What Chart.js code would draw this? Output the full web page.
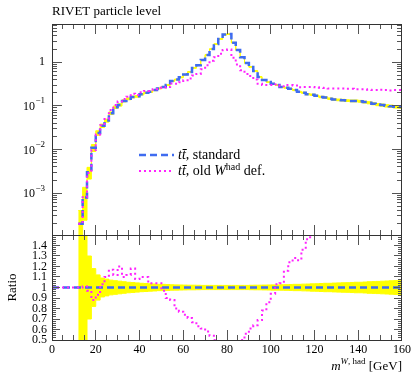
<!DOCTYPE html>
<html lang="en">
<head>
<meta charset="utf-8">
<title>RIVET particle level</title>
<script src="https://cdn.jsdelivr.net/npm/chart.js@4.4.1/dist/chart.umd.min.js"></script>
<style>
  html, body { margin: 0; padding: 0; background: #fff; }
  #wrap { position: relative; width: 415px; height: 375px; overflow: hidden; }
  #chartTop { position: absolute; left: 0; top: 0; }
  #chartRatio { position: absolute; left: 0; top: 230px; }
</style>
</head>
<body>
<div id="wrap">
  <canvas id="chartTop" width="415" height="240" style="width:415px;height:240px"></canvas>
  <canvas id="chartRatio" width="415" height="145" style="width:415px;height:145px"></canvas>
</div>
<script>
// --- dados (bins de 2 GeV, borda inferior) ---
const binLow = [0, 2, 4, 6, 8, 10, 12, 14, 16, 18, 20, 22, 24, 26, 28, 30, 32, 34, 36, 38,
  40, 42, 44, 46, 48, 50, 52, 54, 56, 58, 60, 62, 64, 66, 68, 70, 72, 74, 76, 78,
  80, 82, 84, 86, 88, 90, 92, 94, 96, 98, 100, 102, 104, 106, 108, 110, 112, 114, 116, 118,
  120, 122, 124, 126, 128, 130, 132, 134, 136, 138, 140, 142, 144, 146, 148, 150, 152, 154, 156, 158];
const binEnd = 160;

// tt̄, standard
const stdVals = [null, null, null, null, null, null,
  2.0e-4, 8.0e-4, 3.0e-3, 1.1e-2, 2.4e-2, 3.5e-2, 4.6e-2, 6.8e-2, 9.3e-2, 0.105,
  0.13, 0.145, 0.16, 0.165, 0.185, 0.2, 0.21, 0.23, 0.25, 0.27,
  0.3, 0.37, 0.4, 0.45, 0.52, 0.6, 0.74, 0.85, 1.13, 1.47,
  2.0, 2.6, 3.4, 4.3, 4.4, 2.8, 1.9, 1.3, 0.96, 0.78,
  0.63, 0.46, 0.39, 0.35, 0.32, 0.3, 0.27, 0.26, 0.245, 0.23,
  0.21, 0.2, 0.185, 0.18, 0.17, 0.16, 0.155, 0.146, 0.14, 0.137,
  0.135, 0.132, 0.13, 0.13, 0.127, 0.122, 0.118, 0.112, 0.107, 0.104,
  0.1, 0.098, 0.095, 0.094];

// tt̄, old W^had def.
const oldVals = [null, null, null, null, null, null,
  2.0e-4, 8.1e-4, 2.9e-3, 9.7e-3, 2.2e-2, 3.6e-2, 5.0e-2, 8.0e-2, 0.104, 0.126,
  0.143, 0.162, 0.189, 0.178, 0.204, 0.22, 0.218, 0.24, 0.26, 0.262,
  0.27, 0.326, 0.32, 0.347, 0.385, 0.426, 0.496, 0.536, 0.69, 0.85,
  1.08, 1.3, 1.56, 1.9, 1.95, 1.26, 0.89, 0.65, 0.54, 0.48,
  0.40, 0.32, 0.30, 0.30, 0.30, 0.31, 0.28, 0.30, 0.30, 0.294,
  0.265, 0.27, 0.27, 0.27, 0.265, 0.26, 0.255, 0.25, 0.25, 0.25,
  0.25, 0.245, 0.245, 0.24, 0.24, 0.24, 0.235, 0.23, 0.23, 0.235,
  0.23, 0.225, 0.23, 0.23];

// razão old / standard (painel de baixo)
const ratioOld = [1, 1, 1, 1, 1, 1,
  1.0, 1.01, 0.97, 0.88, 0.93, 1.03, 1.1, 1.17, 1.12, 1.2,
  1.1, 1.12, 1.18, 1.08, 1.1, 1.1, 1.04, 1.04, 1.04, 0.97,
  0.9, 0.88, 0.8, 0.77, 0.74, 0.71, 0.67, 0.63, 0.61, 0.58,
  0.54, 0.5, 0.46, 0.44, 0.44, 0.45, 0.47, 0.5, 0.56, 0.61,
  0.64, 0.69, 0.78, 0.86, 0.94, 1.03, 1.04, 1.16, 1.24, 1.28,
  1.26, 1.36, 1.46, 1.52, 1.56, 1.62, 1.65, 1.71, 1.79, 1.82,
  1.85, 1.86, 1.88, 1.85, 1.89, 1.97, 1.99, 2.05, 2.15, 2.26,
  2.3, 2.3, 2.42, 2.45];
const ratioStdEdges = [0, 160];
const ratioStd = [1, 1];

// incerteza relativa do standard (faixa amarela)
const relErr = [null, null, null, null, null, null,
  1.0, 0.7, 0.3, 0.18, 0.12, 0.09, 0.08, 0.07, 0.065, 0.06,
  0.055, 0.05, 0.047, 0.044, 0.04, 0.038, 0.035, 0.033, 0.03, 0.03,
  0.028, 0.026, 0.025, 0.024, 0.023, 0.022, 0.022, 0.021, 0.02, 0.02,
  0.02, 0.02, 0.02, 0.02, 0.02, 0.02, 0.02, 0.02, 0.02, 0.021,
  0.022, 0.022, 0.023, 0.024, 0.025, 0.025, 0.026, 0.027, 0.028, 0.03,
  0.03, 0.032, 0.033, 0.035, 0.036, 0.038, 0.04, 0.04, 0.042, 0.044,
  0.045, 0.046, 0.048, 0.05, 0.05, 0.052, 0.055, 0.056, 0.058, 0.06,
  0.062, 0.064, 0.066, 0.068];

// ticks
const xTicks = [0, 20, 40, 60, 80, 100, 120, 140, 160];
const logTickExps = [-3, -2, -1, 0];
const ratioTicks = [0.5, 0.6, 0.7, 0.8, 0.9, 1, 1.1, 1.2, 1.3, 1.4];

// --- estilos ---
const BLUE = '#3f6cf0';
const MAGENTA = '#ff22ff';
const YELLOW = '#ffff00';
const FRAME = '#333';
const TICK = '#555';
const SERIF = '"Liberation Serif", "DejaVu Serif", serif';
const TICK_FONT = '12px ' + SERIF;
const SUP_FONT = '9px ' + SERIF;
const TEXT_FONT = '13px ' + SERIF;
const ITAL_FONT = 'italic 13px ' + SERIF;
const SUP_ITAL = 'italic 9px ' + SERIF;
const LEG_FONT = '14px ' + SERIF;
const LEG_ITAL = 'italic 14px ' + SERIF;
const LEG_SUP = '10px ' + SERIF;

// --- helpers ---
function stepData(vals) {
  const pts = binLow.map((x, i) => ({ x: x, y: vals[i] }));
  pts.push({ x: binEnd, y: vals[vals.length - 1] });
  return pts;
}

function bandTop(sign) {
  return stdVals.map((v, i) => v === null ? null : Math.max(v * (1 + sign * relErr[i]), 1e-6));
}

function bandRatio(sign) {
  return relErr.map(e => e === null ? null : 1 + sign * e);
}

function crisp(v) { return Math.floor(v) + 0.5; }

function drawFrame(ctx, a) {
  ctx.strokeStyle = FRAME;
  ctx.lineWidth = 1;
  ctx.strokeRect(a.left + 0.5, a.top + 0.5, a.right - a.left - 1, a.bottom - a.top);
}

function drawXTicks(ctx, x, a) {
  ctx.strokeStyle = TICK;
  ctx.lineWidth = 1;
  ctx.beginPath();
  for (let v = 0; v <= 160; v += 5) {
    const px = Math.min(crisp(x.getPixelForValue(v)), a.right - 0.5);
    const len = v % 20 === 0 ? 10 : 5;
    ctx.moveTo(px, a.top); ctx.lineTo(px, a.top + len);
    ctx.moveTo(px, a.bottom); ctx.lineTo(px, a.bottom - len);
  }
  ctx.stroke();
}

function drawRuns(ctx, runs, x, y) {
  runs.forEach(r => {
    ctx.font = r.font;
    ctx.fillText(r.text, x, y + (r.dy || 0));
    x += ctx.measureText(r.text).width;
  });
  return x;
}

function runsWidth(ctx, runs) {
  let w = 0;
  runs.forEach(r => { ctx.font = r.font; w += ctx.measureText(r.text).width; });
  return w;
}

// --- plugin do painel de cima ---
const topAxes = {
  id: 'topAxes',
  afterDraw(chart) {
    const { ctx, chartArea: a, scales: { x, y } } = chart;
    ctx.save();
    drawXTicks(ctx, x, a);

    // ticks log (decadas e menores)
    ctx.beginPath();
    for (let e = -4; e <= 0; e++) {
      for (let k = 1; k <= 9; k++) {
        const v = k * Math.pow(10, e);
        if (v < y.min || v > y.max) continue;
        const py = crisp(y.getPixelForValue(v));
        const len = k === 1 ? 10 : 5;
        ctx.moveTo(a.left, py); ctx.lineTo(a.left + len, py);
        ctx.moveTo(a.right, py); ctx.lineTo(a.right - len, py);
      }
    }
    ctx.stroke();
    drawFrame(ctx, a);

    // rótulos do eixo y
    ctx.fillStyle = '#000';
    ctx.textBaseline = 'middle';
    ctx.textAlign = 'left';
    logTickExps.forEach(e => {
      const py = y.getPixelForValue(Math.pow(10, e));
      const right = 45;
      if (e === 0) {
        ctx.font = TICK_FONT;
        ctx.fillText('1', right - ctx.measureText('1').width, py);
        return;
      }
      const sup = '\u2212' + (-e);
      ctx.font = SUP_FONT;
      const sw = ctx.measureText(sup).width;
      ctx.fillText(sup, right - sw, py - 5);
      ctx.font = TICK_FONT;
      const bw = ctx.measureText('10').width;
      ctx.fillText('10', right - sw - bw - 0.5, py + 1);
    });

    // título
    ctx.textBaseline = 'alphabetic';
    ctx.font = TEXT_FONT;
    ctx.fillText('RIVET particle level', 52, 15);

    // legenda
    ctx.lineWidth = 2.5;
    ctx.strokeStyle = BLUE;
    ctx.setLineDash([7, 4]);
    ctx.beginPath(); ctx.moveTo(139, 155); ctx.lineTo(174, 155); ctx.stroke();
    ctx.lineWidth = 2;
    ctx.strokeStyle = MAGENTA;
    ctx.setLineDash([2, 3]);
    ctx.beginPath(); ctx.moveTo(139, 171); ctx.lineTo(174, 171); ctx.stroke();
    ctx.setLineDash([]);

    drawRuns(ctx, [
      { text: 't', font: LEG_ITAL },
      { text: 't\u0304', font: LEG_ITAL },
      { text: ', standard', font: LEG_FONT }
    ], 178, 159);
    drawRuns(ctx, [
      { text: 't', font: LEG_ITAL },
      { text: 't\u0304', font: LEG_ITAL },
      { text: ', old ', font: LEG_FONT },
      { text: 'W', font: LEG_ITAL },
      { text: 'had', font: LEG_SUP, dy: -5 },
      { text: ' def.', font: LEG_FONT }
    ], 178, 175);
    ctx.restore();
  }
};

// --- plugin do painel de razão ---
const ratioAxes = {
  id: 'ratioAxes',
  afterDraw(chart) {
    const { ctx, chartArea: a, scales: { x, y } } = chart;
    ctx.save();
    drawXTicks(ctx, x, a);

    ctx.beginPath();
    for (let i = 0; i <= 50; i++) {
      const v = 0.5 + i * 0.02;
      const py = crisp(y.getPixelForValue(v));
      const len = i % 5 === 0 ? 8 : 4;
      ctx.moveTo(a.left, py); ctx.lineTo(a.left + len, py);
      ctx.moveTo(a.right, py); ctx.lineTo(a.right - len, py);
    }
    ctx.stroke();
    drawFrame(ctx, a);

    ctx.fillStyle = '#000';
    ctx.font = TICK_FONT;
    ctx.textBaseline = 'middle';
    ctx.textAlign = 'right';
    ratioTicks.forEach(v => ctx.fillText(String(v), 47, y.getPixelForValue(v)));
    ctx.textAlign = 'center';
    xTicks.forEach(v => ctx.fillText(String(v), x.getPixelForValue(v), a.bottom + 10));

    // "Ratio"
    ctx.save();
    ctx.translate(13, y.getPixelForValue(1));
    ctx.rotate(-Math.PI / 2);
    ctx.font = TEXT_FONT;
    ctx.fillText('Ratio', 0, 0);
    ctx.restore();

    // título do eixo x
    ctx.textAlign = 'left';
    ctx.textBaseline = 'alphabetic';
    const runs = [
      { text: 'm', font: ITAL_FONT },
      { text: 'W', font: SUP_ITAL, dy: -6 },
      { text: ', had', font: SUP_FONT, dy: -6 },
      { text: ' [GeV]', font: TEXT_FONT }
    ];
    drawRuns(ctx, runs, a.right - runsWidth(ctx, runs), a.bottom + 30);
    ctx.restore();
  }
};

const baseOptions = {
  responsive: false,
  animation: false,
  events: [],
  elements: { point: { radius: 0 }, line: { tension: 0 } },
  plugins: { legend: { display: false }, tooltip: { enabled: false } }
};

function lineSet(data, color, width, dash) {
  return { data: data, borderColor: color, borderWidth: width, borderDash: dash,
    stepped: true, fill: false, clip: 0, spanGaps: false };
}

function bandSets(lower, upper) {
  return [
    { data: stepData(lower), borderColor: YELLOW, borderWidth: 1, stepped: true, fill: false, clip: 0 },
    { data: stepData(upper), borderColor: YELLOW, borderWidth: 1, stepped: true, fill: '-1',
      backgroundColor: YELLOW, clip: 0 }
  ];
}

// painel de cima (escala log)
new Chart(document.getElementById('chartTop'), {
  type: 'line',
  data: {
    datasets: [
      lineSet(stepData(oldVals), MAGENTA, 2, [2, 3]),
      lineSet(stepData(stdVals), BLUE, 2.5, [7, 4]),
      ...bandSets(bandTop(-1), bandTop(1))
    ]
  },
  options: Object.assign({}, baseOptions, {
    layout: { padding: { left: 52, right: 13, top: 24, bottom: 5 } },
    scales: {
      x: { type: 'linear', min: 0, max: 160, display: false },
      y: { type: 'logarithmic', min: 1.1e-4, max: 7.5, display: false }
    }
  }),
  plugins: [topAxes]
});

// painel de razão
new Chart(document.getElementById('chartRatio'), {
  type: 'line',
  data: {
    datasets: [
      lineSet(stepData(ratioOld), MAGENTA, 2, [2, 3]),
      lineSet(ratioStdEdges.map((x, i) => ({ x: x, y: ratioStd[i] })), BLUE, 2.5, [7, 4]),
      ...bandSets(bandRatio(-1), bandRatio(1))
    ]
  },
  options: Object.assign({}, baseOptions, {
    layout: { padding: { left: 52, right: 13, top: 5, bottom: 35 } },
    scales: {
      x: { type: 'linear', min: 0, max: 160, display: false },
      y: { type: 'linear', min: 0.5, max: 1.5, display: false }
    }
  }),
  plugins: [ratioAxes]
});
</script>
</body>
</html>
